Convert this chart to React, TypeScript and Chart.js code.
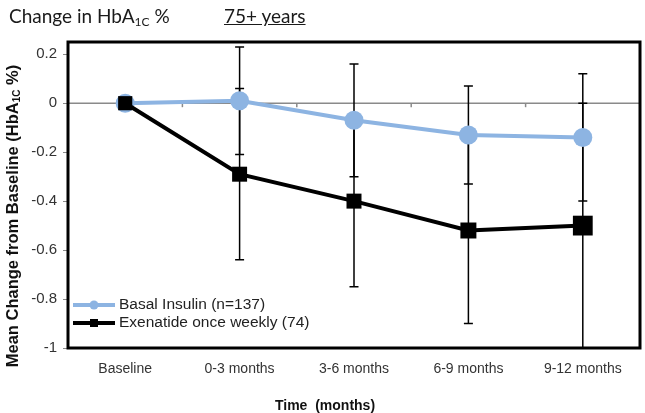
import React, { useEffect, useRef } from 'react';
import { Chart, registerables } from 'chart.js';

Chart.register(...registerables);

const categories = ['Baseline', '0-3 months', '3-6 months', '6-9 months', '9-12 months'];
const basalLabel = 'Basal Insulin (n=137)';
const exenatideLabel = 'Exenatide once weekly (74)';
const basalValues = [0, 0.01, -0.07, -0.13, -0.14];
const basalErrors = [0, 0.22, 0.23, 0.2, 0.26];
const exenatideValues = [0, -0.29, -0.4, -0.52, -0.5];
const exenatideErrors = [0, 0.35, 0.35, 0.38, 0.5];
const yTicks = [0.2, 0, -0.2, -0.4, -0.6, -0.8, -1];
const yMin = -1;
const yMax = 0.25;

const BLUE = '#8DB4E2';
const FONT = '"Liberation Sans", Arial, sans-serif';

const errorBarsAndZeroLine = {
  id: 'errorBarsAndZeroLine',
  beforeDatasetsDraw(chart: any) {
    const { ctx, chartArea, scales } = chart;
    const xs = scales.x;
    const ys = scales.y;
    ctx.save();
    const y0 = ys.getPixelForValue(0);
    ctx.strokeStyle = '#8a8a8a';
    ctx.lineWidth = 1.5;
    ctx.beginPath();
    ctx.moveTo(chartArea.left, y0);
    ctx.lineTo(chartArea.right, y0);
    ctx.stroke();
    for (let i = 0; i < categories.length - 1; i++) {
      const bx = (xs.getPixelForValue(i) + xs.getPixelForValue(i + 1)) / 2;
      ctx.beginPath();
      ctx.moveTo(bx, y0);
      ctx.lineTo(bx, y0 + 4);
      ctx.stroke();
    }
    const sets = [
      { v: basalValues, e: basalErrors },
      { v: exenatideValues, e: exenatideErrors },
    ];
    ctx.strokeStyle = '#000';
    ctx.lineWidth = 1.5;
    sets.forEach((s) => {
      s.v.forEach((val, i) => {
        const err = s.e[i];
        if (!err) return;
        const x = xs.getPixelForValue(i);
        const yt = ys.getPixelForValue(val + err);
        const yb = ys.getPixelForValue(val - err);
        ctx.beginPath();
        ctx.moveTo(x, yt);
        ctx.lineTo(x, yb);
        ctx.moveTo(x - 4.5, yt);
        ctx.lineTo(x + 4.5, yt);
        ctx.moveTo(x - 4.5, yb);
        ctx.lineTo(x + 4.5, yb);
        ctx.stroke();
      });
    });
    ctx.restore();
  },
  afterDatasetsDraw(chart: any) {
    const { ctx, chartArea } = chart;
    ctx.save();
    ctx.strokeStyle = '#000';
    ctx.lineWidth = 3;
    ctx.strokeRect(chartArea.left, chartArea.top, chartArea.right - chartArea.left, chartArea.bottom - chartArea.top);

    const lx0 = chartArea.left + 5;
    const lx1 = chartArea.left + 47;
    const mx = (lx0 + lx1) / 2;
    const items = [
      { label: basalLabel, color: BLUE, shape: 'circle', y: chartArea.bottom - 43 },
      { label: exenatideLabel, color: '#000', shape: 'rect', y: chartArea.bottom - 25 },
    ];
    items.forEach((it) => {
      ctx.strokeStyle = it.color;
      ctx.fillStyle = it.color;
      ctx.lineWidth = 4;
      ctx.beginPath();
      ctx.moveTo(lx0, it.y);
      ctx.lineTo(lx1, it.y);
      ctx.stroke();
      if (it.shape === 'circle') {
        ctx.beginPath();
        ctx.arc(mx, it.y, 4.5, 0, Math.PI * 2);
        ctx.fill();
      } else {
        ctx.fillRect(mx - 4, it.y - 4, 8, 8);
      }
      ctx.fillStyle = '#222';
      ctx.font = `15.5px ${FONT}`;
      ctx.textBaseline = 'middle';
      ctx.textAlign = 'left';
      ctx.fillText(it.label, lx1 + 4, it.y);
    });

    ctx.fillStyle = '#111';
    ctx.font = `bold 14px ${FONT}`;
    ctx.textAlign = 'center';
    ctx.textBaseline = 'middle';
    ctx.fillText('Time  (months)', 325, chartArea.bottom + 58);

    const parts = [
      { t: 'Mean Change from Baseline (HbA', f: `bold 16.5px ${FONT}`, dy: 0 },
      { t: '1C', f: `bold 10px ${FONT}`, dy: 4 },
      { t: ' %)', f: `bold 16.5px ${FONT}`, dy: 0 },
    ];
    let total = 0;
    parts.forEach((p) => {
      ctx.font = p.f;
      total += ctx.measureText(p.t).width;
    });
    ctx.translate(13, 216);
    ctx.rotate(-Math.PI / 2);
    ctx.textAlign = 'left';
    let cx = -total / 2;
    parts.forEach((p) => {
      ctx.font = p.f;
      ctx.fillText(p.t, cx, p.dy);
      cx += ctx.measureText(p.t).width;
    });
    ctx.restore();
  },
};

function ChartCanvas() {
  const ref = useRef<HTMLCanvasElement | null>(null);
  useEffect(() => {
    if (!ref.current) return;
    const chart = new Chart(ref.current, {
      type: 'line',
      data: {
        labels: categories,
        datasets: [
          {
            label: basalLabel,
            data: basalValues,
            borderColor: BLUE,
            backgroundColor: BLUE,
            borderWidth: 4,
            pointStyle: 'circle',
            pointRadius: 9.5,
            pointBorderWidth: 0,
            order: 1,
            clip: false as any,
          },
          {
            label: exenatideLabel,
            data: exenatideValues,
            borderColor: '#000',
            backgroundColor: '#000',
            borderWidth: 4,
            pointStyle: 'rect',
            pointRadius: [10, 10.6, 10.6, 11.3, 14],
            pointBorderWidth: 0,
            order: 0,
            clip: false as any,
          },
        ],
      },
      options: {
        responsive: false,
        animation: false,
        layout: { autoPadding: false, padding: { top: 42, right: 5, left: 0, bottom: 0 } },
        plugins: {
          legend: { display: false },
          tooltip: { enabled: false },
          title: { display: false },
        },
        scales: {
          x: {
            type: 'category',
            offset: true,
            grid: { display: false, drawTicks: false, tickLength: 0 },
            border: { display: false },
            ticks: {
              color: '#333',
              font: { family: FONT, size: 14 },
              padding: 13,
              maxRotation: 0,
              autoSkip: false,
            },
            afterFit: (s: any) => {
              s.height = 65;
              s.paddingLeft = 0;
              s.paddingRight = 0;
            },
          },
          y: {
            min: yMin,
            max: yMax,
            grid: { drawOnChartArea: false, drawTicks: true, tickLength: 5, color: '#888', lineWidth: 1 },
            border: { display: false },
            ticks: {
              color: '#333',
              font: { family: FONT, size: 15 },
              padding: 6,
              callback: (v: any) => String(Number(Number(v).toFixed(1))),
            },
            afterBuildTicks: (s: any) => {
              s.ticks = yTicks.map((v) => ({ value: v }));
            },
            afterFit: (s: any) => {
              s.width = 68;
              s.paddingTop = 0;
              s.paddingBottom = 0;
            },
          },
        },
      },
      plugins: [errorBarsAndZeroLine],
    });
    return () => chart.destroy();
  }, []);
  return <canvas ref={ref} width={645} height={413} style={{ position: 'absolute', left: 0, top: 0 }} />;
}

export default function App() {
  const titleFont = 'Lato, "Open Sans", sans-serif';
  return (
    <div style={{ position: 'fixed', left: 0, top: 0, width: 645, height: 413, background: '#fff', overflow: 'hidden' }}>
      <ChartCanvas />
      <div
        style={{
          position: 'absolute',
          left: 9,
          top: 4,
          fontFamily: titleFont,
          fontSize: 19,
          color: '#1a1a1a',
          whiteSpace: 'nowrap',
          lineHeight: '24px',
        }}
      >
        Change in HbA
        <span style={{ fontSize: 12, position: 'relative', top: 3 }}>1C</span> %
      </div>
      <div
        style={{
          position: 'absolute',
          left: 224,
          top: 4,
          fontFamily: titleFont,
          fontSize: 19,
          color: '#1a1a1a',
          textDecoration: 'underline',
          whiteSpace: 'nowrap',
          lineHeight: '24px',
        }}
      >
        75+ years
      </div>
    </div>
  );
}
